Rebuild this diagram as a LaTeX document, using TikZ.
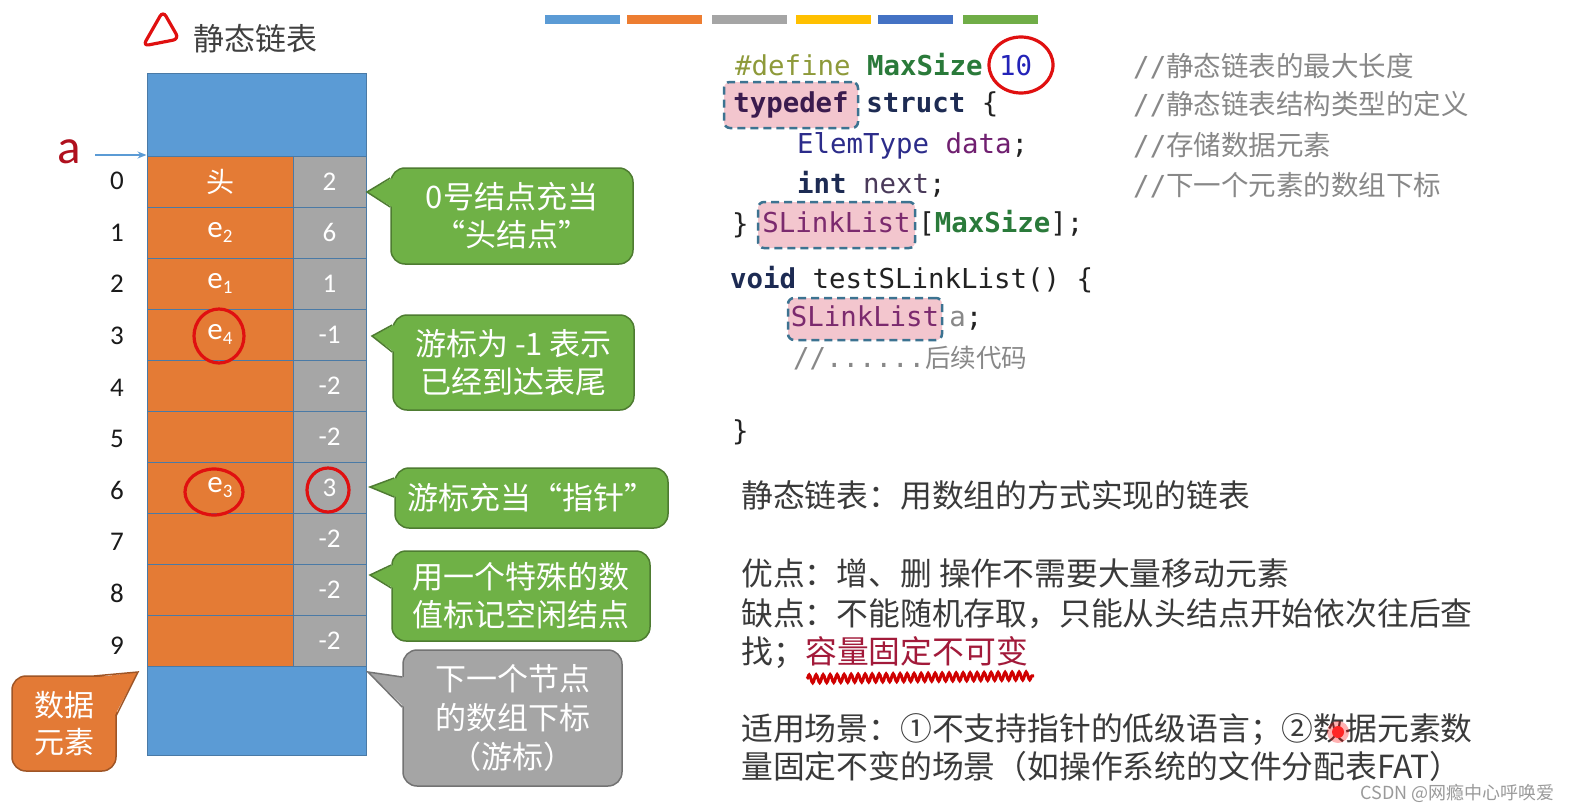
\documentclass[tikz,border=0pt]{standalone}
\usepackage{fontspec}
\setmainfont{Noto Sans CJK SC}
\setmonofont{DejaVu Sans Mono}
\newfontfamily\calib{Carlito}
\usepackage{tikz}
\usetikzlibrary{arrows.meta,positioning,calc,decorations.pathmorphing}
\definecolor{blockblue}{HTML}{5B9BD5}
\definecolor{cellorange}{HTML}{E47B35}
\definecolor{cellgray}{HTML}{A6A6A6}
\definecolor{cellline}{HTML}{4A7AA6}
\definecolor{calgreen}{HTML}{6FB146}
\definecolor{calgray}{HTML}{A5A5A5}
\definecolor{calorange}{HTML}{E37A36}
\definecolor{markred}{HTML}{E01010}
\definecolor{letterred}{HTML}{B0101E}
\definecolor{titlegray}{HTML}{404040}
\definecolor{idxblack}{HTML}{1A1A1A}
\definecolor{barblue}{HTML}{5B9BD5}
\definecolor{barorange}{HTML}{ED7D31}
\definecolor{bargray}{HTML}{A5A5A5}
\definecolor{baryellow}{HTML}{FFC000}
\definecolor{bardblue}{HTML}{4472C4}
\definecolor{bargreen}{HTML}{70AD47}
\definecolor{defcol}{HTML}{8E9A3A}
\definecolor{macgreen}{HTML}{2A7A3A}
\definecolor{numblue}{HTML}{2323B8}
\definecolor{kwdark}{HTML}{3B1B4E}
\definecolor{kwnavy}{HTML}{1D2B53}
\definecolor{typeblue}{HTML}{2C2C8A}
\definecolor{fieldpur}{HTML}{702070}
\definecolor{nextcol}{HTML}{4A3A5A}
\definecolor{typepur}{HTML}{7B2A6E}
\definecolor{codeblack}{HTML}{222222}
\definecolor{cmtgray}{HTML}{888888}
\definecolor{hlpink}{HTML}{F3C6CE}
\definecolor{hlline}{HTML}{3C7391}
\definecolor{bodygray}{HTML}{3A3A3A}
\definecolor{capred}{HTML}{A21A3A}
\definecolor{wavyred}{HTML}{D00000}
\definecolor{wmgray}{HTML}{9A9A9A}
\newcommand{\setfs}[2]{\fontsize{#1pt}{#2pt}\selectfont}
\newcommand{\elem}[1]{e\raisebox{-0.32ex}{\setfs{19}{19}#1}}

\begin{document}
\begin{tikzpicture}[x=1pt, y=-1pt,
  datacell/.style={draw=cellline, line width=1pt, fill=cellorange, minimum width=146, minimum height=51, inner sep=0pt, text=white, font=\calib\setfs{31}{31}},
  nextcell/.style={draw=cellline, line width=1pt, fill=cellgray, minimum width=73, minimum height=51, inner sep=0pt, text=white, font=\calib\setfs{27}{27}},
  block/.style={draw=cellline, line width=1pt, fill=blockblue, minimum width=219, inner sep=0pt},
  idx/.style={inner sep=0pt, text=idxblack, font=\calib\setfs{27}{27}},
  callout/.style={fill=#1, draw=#1!70!black, line width=1.5, rounded corners=14, text=white, align=center, inner sep=0pt, font=\setfs{31}{38}},
  code/.style={anchor=base west, inner sep=0pt, text=codeblack, font=\ttfamily\setfs{27.4}{27.4}},
  hl/.style={fill=hlpink, draw=hlline, dash pattern=on 8pt off 5pt, line width=2.5, rounded corners=6, inner sep=0pt, text height=21, text depth=6.5, text=typepur, font=\ttfamily\setfs{27.4}{27.4}},
  cmt/.style={anchor=base west, inner sep=0pt, text=cmtgray, font=\setfs{27.5}{27.5}},
  body/.style={anchor=base west, inner sep=0pt, text=bodygray, font=\setfs{31.8}{31.8}},
  redmark/.style={draw=markred, line width=3.2, line cap=round},
  >={Stealth[length=9pt, width=7pt]}]
\fill[white] (0,0) rectangle (1571,808);
\useasboundingbox (0,0) rectangle (1571,808);
% colour bars
\foreach \x/\c in {545/barblue, 627/barorange, 712/bargray, 796/baryellow, 878/bardblue, 963/bargreen}
  \fill[\c] (\x,15) rectangle ++(75,9);
% title
\draw[redmark, rounded corners=6] (163,11) -- (143,46) -- (179,39) -- cycle;
\node[anchor=base west, inner sep=0pt, text=titlegray, font=\setfs{31}{31}] (title) at (193,51) {静态链表};
% the array
\node[block, minimum height=82] (top) at (256.5,115) {};
\foreach \i/\dat/\nxt in {0/{\rmfamily\setfs{28}{28}头}/2, 1/\elem{2}/6, 2/\elem{1}/1, 3/\elem{4}/-1, 4//-2, 5//-2, 6/\elem{3}/3, 7//-2, 8//-2, 9//-2} {
  \node[datacell] (d\i) at (220,181.5+51*\i) {\dat};
  \node[nextcell] (n\i) at (329.5,181.5+51*\i) {\nxt};
  \node[idx] (i\i) at (117,181+51.6*\i) {\i};
}
\node[block, minimum height=89] (bottom) at (256.5,710.5) {};
% pointer a
\node[anchor=base, inner sep=0pt, text=letterred, font=\calib\setfs{49}{49}] (pa) at (69,163) {a};
\coordinate (astart) at (95,155);
\draw[->, blockblue, line width=1.3] (astart) -- (astart -| d0.west);
% hand marks
\draw[redmark] (219,336) ellipse [x radius=25, y radius=27];
\draw[redmark] (214,492) ellipse [x radius=29, y radius=23];
\draw[redmark] (328,490) ellipse [x radius=21, y radius=22];
\draw[redmark] (1021,65) ellipse [x radius=32, y radius=28];
% callouts
\node[callout=calgreen, minimum width=242, minimum height=96] (b1) at (512,216) {0号结点充当\\“头结点”};
\node[callout=calgreen, minimum width=241, minimum height=95] (b2) at (513.5,362.5) {游标为 -1 表示\\已经到达表尾};
\node[callout=calgreen, minimum width=273, minimum height=60] (b3) at (531.5,498) {游标充当“指针”};
\node[callout=calgreen, minimum width=258, minimum height=90] (b4) at (521,596) {用一个特殊的数\\值标记空闲结点};
\node[callout=calgray, minimum width=219, minimum height=136, font=\setfs{31}{39}] (b5) at (512.5,718) {下一个节点\\的数组下标\\（游标）};
\node[callout=calorange, minimum width=104, minimum height=95, font=\setfs{30}{37}] (b6) at (64,723.5) {数据\\元素};
\foreach \b/\tx/\ty/\ya/\yb/\c in {b1/367/192/178/207/calgreen, b2/372/336/325/352/calgreen, b3/370/487/478/497/calgreen, b4/370/575/565/588/calgreen, b5/368/672/677/707/calgray} {
  \coordinate (tip\b) at (\tx,\ty);
  \fill[\c] ($(\b.west |- 0,\ya)+(2,0)$) -- (tip\b) -- ($(\b.west |- 0,\yb)+(2,0)$) -- cycle;
  \draw[\c!70!black, line width=1.5] (\b.west |- 0,\ya) -- (tip\b) -- (\b.west |- 0,\yb);
}
\coordinate (tipb6) at (138,672);
\fill[calorange] (94,677.5) -- (tipb6) -- (114.5,716) -- (94,716) -- cycle;
\draw[calorange!70!black, line width=1.5] (94,676) -- (tipb6) -- (116,716);
% code
\node[code] (c1) at (735,75) {{\color{defcol}\#define} {\bfseries\color{macgreen}MaxSize} {\color{numblue}10}};
\node[hl, minimum width=134, minimum height=46, text=kwdark, font=\ttfamily\bfseries\setfs{27.4}{27.4}] (tdef) at (791,105) {typedef};
\node[code] (c2) at ($(tdef.base east)+(7,0)$) {{\bfseries\color{kwnavy}struct} \{};
\node[code] (c3) at (797,153) {{\color{typeblue}ElemType} {\color{fieldpur}data};};
\node[code] (c4) at (797,193) {{\bfseries\color{kwnavy}int} {\color{nextcol}next};};
\node[code] (c5) at (732,233) {\}};
\node[hl, minimum width=157, minimum height=46] (slink) at (836.5,225) {SLinkList};
\node[code] (c5b) at ($(slink.base east)+(2,0)$) {[{\bfseries\color{macgreen}MaxSize}];};
\node[code] (c6) at (730,288) {{\bfseries\color{kwnavy}void} testSLinkList() \{};
\node[hl, minimum width=154, minimum height=42] (sla) at (865,319) {SLinkList};
\node[code] (c7) at ($(sla.base east)+(6,0)$) {{\color{cmtgray}a};};
\node[code, text=cmtgray] (c8) at (793,367) {//......{\rmfamily\setfs{25.5}{25.5}后续代码}};
\node[code] (c9) at (732,440) {\}};
% comments
\node[cmt] (m1) at (1133,77) {{\ttfamily //}静态链表的最大长度};
\node[cmt] (m2) at (1133,114) {{\ttfamily //}静态链表结构类型的定义};
\node[cmt] (m3) at (1133,155) {{\ttfamily //}存储数据元素};
\node[cmt] (m4) at (1133,195) {{\ttfamily //}下一个元素的数组下标};
% notes
\node[body] (txtdef) at (741,507) {静态链表：用数组的方式实现的链表};
\node[body] (txtpro) at (741,585) {优点：增、删 操作不需要大量移动元素};
\node[body] (txtcon) at (741,625) {缺点：不能随机存取，只能从头结点开始依次往后查};
\node[body] (txtfind) at (741,663) {找；};
\node[body, text=capred] (cap) at (txtfind.base east) {容量固定不可变};
\draw[wavyred, line width=3, decorate, decoration={snake, amplitude=4, segment length=7}] ($(cap.south west)+(2,13)$) -- ($(cap.south east)+(6,10)$);
\node[body] (txtuse) at (741,740) {适用场景：①不支持指针的低级语言；②数据元素数};
\node[body] (txtuse2) at (741,778) {量固定不变的场景（如操作系统的文件分配表FAT）};
\fill[red, opacity=0.3] (1338,732) circle (11);
\fill[red!85!white] (1338,732) circle (6);
\node[anchor=base east, inner sep=0pt, text=wmgray, font=\setfs{18}{18}] (wm) at (1555,799) {CSDN @网瘾中心呼唤爱};
\end{tikzpicture}
\end{document}
